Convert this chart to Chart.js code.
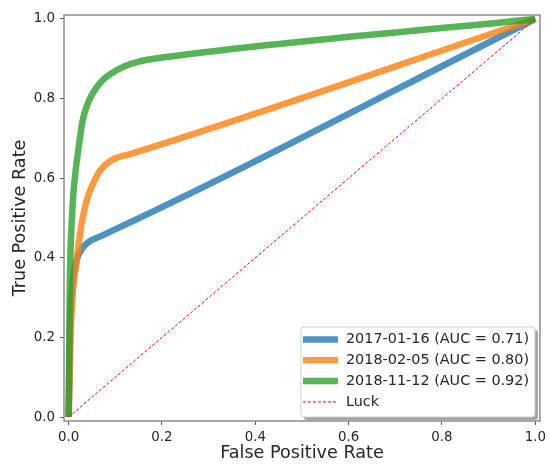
<!DOCTYPE html>
<html>
<head>
<meta charset="utf-8">
<script src="https://cdn.jsdelivr.net/npm/chart.js@4"></script>
<style>
  html, body { margin: 0; padding: 0; background: #fff; }
  #wrap { width: 550px; height: 464px; }
</style>
</head>
<body>
<div id="wrap"><canvas id="rocChart" width="550" height="464"></canvas></div>
<script>
// ROC curves, values
const fprBlue = [0, 0.003, 0.006, 0.01, 0.015, 0.02, 0.03, 0.04, 0.05, 0.07, 1.0];
const tprBlue = [0, 0.22, 0.30, 0.35, 0.385, 0.405, 0.425, 0.437, 0.445, 0.455, 1.0];

const fprOrange = [0, 0.004, 0.008, 0.012, 0.017, 0.022, 0.03, 0.04, 0.05, 0.065, 0.08, 0.1, 0.13, 1.0];
const tprOrange = [0, 0.2, 0.3, 0.35, 0.39, 0.44, 0.50, 0.55, 0.58, 0.615, 0.635, 0.65, 0.66, 1.0];

const fprGreen = [0, 0.002, 0.004, 0.007, 0.01, 0.015, 0.02, 0.03, 0.04, 0.05, 0.07, 0.09, 0.12, 0.15, 0.2, 1.0];
const tprGreen = [0, 0.3, 0.42, 0.5, 0.56, 0.62, 0.665, 0.745, 0.785, 0.81, 0.843, 0.862, 0.881, 0.893, 0.903, 1.0];

const fprLuck = [0, 1];
const tprLuck = [0, 1];

const seriesLabels = ['2017-01-16 (AUC = 0.71)', '2018-02-05 (AUC = 0.80)', '2018-11-12 (AUC = 0.92)', 'Luck'];
const tickValues = [0, 0.2, 0.4, 0.6, 0.8, 1.0];

const FONT = 'DejaVu Sans';
const pts = (xs, ys) => xs.map((x, i) => ({ x: x, y: ys[i] }));

function curve(label, xs, ys, color, order) {
    return {
        label: label,
        data: pts(xs, ys),
        borderColor: color,
        borderWidth: 6.5,
        pointRadius: 0,
        fill: false,
        cubicInterpolationMode: 'monotone',
        order: order
    };
}

// frame around the plot + legend in lower right
const framePlugin = {
    id: 'frame',
    afterDraw(chart) {
        const { ctx, chartArea: a } = chart;
        ctx.save();
        ctx.strokeStyle = '#8c8c8c';
        ctx.lineWidth = 1.5;
        ctx.strokeRect(a.left, a.top, a.right - a.left, a.bottom - a.top);

        // legend box
        const bx = a.right - 239, by = a.bottom - 94, bw = 234, bh = 90;
        ctx.fillStyle = 'rgba(90,90,90,0.55)';
        roundRect(ctx, bx + 3, by + 3, bw, bh, 3);
        ctx.fill();
        ctx.fillStyle = '#fff';
        roundRect(ctx, bx, by, bw, bh, 3);
        ctx.fill();
        ctx.strokeStyle = '#d0d0d0';
        ctx.lineWidth = 1;
        ctx.stroke();

        ctx.font = '14.4px "' + FONT + '"';
        ctx.textBaseline = 'middle';
        ctx.textAlign = 'left';
        chart.data.datasets.forEach((ds, i) => {
            const y = by + 12.5 + i * 20.8;
            ctx.beginPath();
            ctx.strokeStyle = ds.borderColor;
            ctx.lineWidth = ds.borderWidth;
            ctx.setLineDash(ds.borderDash || []);
            ctx.moveTo(bx + 2, y);
            ctx.lineTo(bx + 37, y);
            ctx.stroke();
            ctx.setLineDash([]);
            ctx.fillStyle = '#262626';
            ctx.fillText(ds.label, bx + 45, y);
        });
        ctx.restore();
    }
};

function roundRect(ctx, x, y, w, h, r) {
    ctx.beginPath();
    ctx.moveTo(x + r, y);
    ctx.lineTo(x + w - r, y);
    ctx.arcTo(x + w, y, x + w, y + r, r);
    ctx.lineTo(x + w, y + h - r);
    ctx.arcTo(x + w, y + h, x + w - r, y + h, r);
    ctx.lineTo(x + r, y + h);
    ctx.arcTo(x, y + h, x, y + h - r, r);
    ctx.lineTo(x, y + r);
    ctx.arcTo(x, y, x + r, y, r);
    ctx.closePath();
}

const axisCommon = {
    type: 'linear',
    min: -0.01,
    max: 1.01,
    afterBuildTicks: (scale) => { scale.ticks = tickValues.map(v => ({ value: v })); },
    grid: { drawOnChartArea: false, drawTicks: true, tickLength: 4, tickColor: '#555', tickWidth: 1 },
    border: { display: false },
    ticks: {
        color: '#262626',
        font: { family: FONT, size: 13.4 },
        callback: (v) => v.toFixed(1),
        maxRotation: 0,
        autoSkip: false
    }
};

const ctx = document.getElementById('rocChart').getContext('2d');
const rocChart = new Chart(ctx, {
    type: 'scatter',
    data: {
        datasets: [
            curve(seriesLabels[0], fprBlue, tprBlue, 'rgba(31,119,180,0.8)', 3),
            curve(seriesLabels[1], fprOrange, tprOrange, 'rgba(255,127,14,0.8)', 2),
            curve(seriesLabels[2], fprGreen, tprGreen, 'rgba(44,160,44,0.8)', 1),
            {
                label: seriesLabels[3],
                data: pts(fprLuck, tprLuck),
                borderColor: 'red',
                borderWidth: 1,
                borderDash: [3, 2],
                pointRadius: 0,
                order: 0
            }
        ].map(d => Object.assign({ showLine: true }, d))
    },
    options: {
        responsive: false,
        animation: false,
        devicePixelRatio: 1,
        layout: { padding: { left: 0, right: 8, top: 15, bottom: 0 } },
        plugins: { legend: { display: false }, tooltip: { enabled: false } },
        scales: {
            x: Object.assign({}, axisCommon, {
                position: 'bottom',
                ticks: Object.assign({}, axisCommon.ticks, { padding: 4 }),
                title: { display: true, text: 'False Positive Rate', color: '#262626', font: { family: FONT, size: 17.6 }, padding: { top: 2, bottom: 0 } },
                afterFit: (s) => { s.height = 43; }
            }),
            y: Object.assign({}, axisCommon, {
                position: 'left',
                ticks: Object.assign({}, axisCommon.ticks, { padding: 5 }),
                title: { display: true, text: 'True Positive Rate', color: '#262626', font: { family: FONT, size: 17.6 }, padding: { top: 9.5, bottom: 0 } },
                afterFit: (s) => { s.width = 64; }
            })
        }
    },
    plugins: [framePlugin]
});
</script>
</body>
</html>
